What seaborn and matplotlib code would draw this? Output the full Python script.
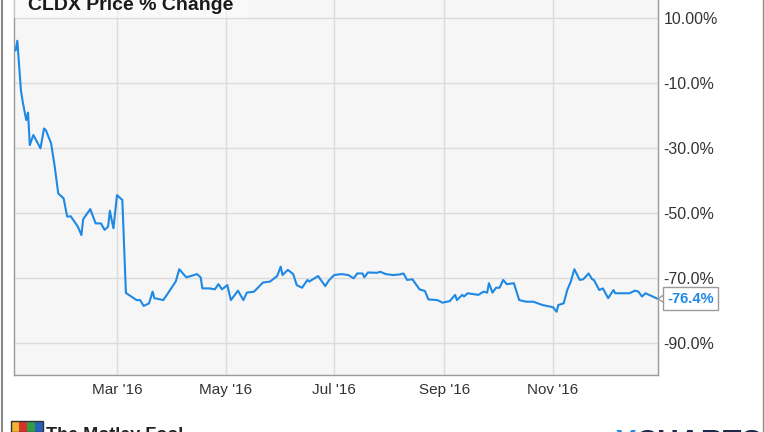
import matplotlib
matplotlib.use('Agg')
import matplotlib.pyplot as plt
import matplotlib.dates as mdates
from matplotlib.patches import Rectangle
from matplotlib.lines import Line2D
import matplotlib.transforms as mtransforms
import seaborn as sns
import pandas as pd

# ---------------- data ----------------
dates = [
    '2016-01-04', '2016-01-05', '2016-01-07', '2016-01-08', '2016-01-10', '2016-01-11',
    '2016-01-12', '2016-01-14', '2016-01-18', '2016-01-20', '2016-01-21', '2016-01-24',
    '2016-01-26', '2016-01-28', '2016-01-31', '2016-02-02', '2016-02-04', '2016-02-08',
    '2016-02-10', '2016-02-11', '2016-02-15', '2016-02-18', '2016-02-21', '2016-02-23',
    '2016-02-25', '2016-02-26', '2016-02-27', '2016-02-28', '2016-03-01', '2016-03-03',
    '2016-03-04', '2016-03-06', '2016-03-09', '2016-03-12', '2016-03-14', '2016-03-16',
    '2016-03-19', '2016-03-21', '2016-03-22', '2016-03-27', '2016-03-29', '2016-04-03',
    '2016-04-05', '2016-04-07', '2016-04-09', '2016-04-15', '2016-04-17', '2016-04-18',
    '2016-04-22', '2016-04-25', '2016-04-27', '2016-04-29', '2016-05-02', '2016-05-04',
    '2016-05-08', '2016-05-11', '2016-05-13', '2016-05-17', '2016-05-22', '2016-05-26',
    '2016-05-30', '2016-06-01', '2016-06-02', '2016-06-05', '2016-06-08', '2016-06-10',
    '2016-06-13', '2016-06-16', '2016-06-17', '2016-06-22', '2016-06-26', '2016-06-28',
    '2016-07-01', '2016-07-05', '2016-07-09', '2016-07-12', '2016-07-14', '2016-07-17',
    '2016-07-18', '2016-07-20', '2016-07-25', '2016-07-27', '2016-07-30', '2016-08-03',
    '2016-08-07', '2016-08-09', '2016-08-11', '2016-08-14', '2016-08-18', '2016-08-21',
    '2016-08-23', '2016-08-28', '2016-08-31', '2016-09-04', '2016-09-07', '2016-09-08',
    '2016-09-11', '2016-09-12', '2016-09-14', '2016-09-20', '2016-09-23', '2016-09-25',
    '2016-09-26', '2016-09-28', '2016-09-30', '2016-10-02', '2016-10-04', '2016-10-06',
    '2016-10-10', '2016-10-13', '2016-10-17', '2016-10-21', '2016-10-26', '2016-11-01',
    '2016-11-03', '2016-11-04', '2016-11-07', '2016-11-09', '2016-11-11', '2016-11-13',
    '2016-11-16', '2016-11-18', '2016-11-21', '2016-11-23', '2016-11-24', '2016-11-27',
    '2016-11-29', '2016-12-02', '2016-12-05', '2016-12-06', '2016-12-14', '2016-12-17',
    '2016-12-19', '2016-12-21', '2016-12-23', '2016-12-29', '2016-12-30',
]
pct_change = [
    0.0, 3.0, -12.2, -15.7, -21.4, -19.1,
    -29.1, -26.0, -30.1, -24.0, -24.5, -28.6,
    -35.7, -44.0, -45.5, -51.1, -51.0, -54.2,
    -56.8, -51.9, -48.8, -53.2, -53.2, -55.2,
    -54.2, -49.3, -52.1, -54.7, -44.5, -45.5,
    -46.0, -74.6, -75.7, -76.8, -76.8, -78.6,
    -77.8, -74.2, -76.2, -76.8, -75.2, -71.1,
    -67.3, -68.6, -69.8, -68.8, -69.8, -73.2,
    -73.2, -73.5, -71.9, -73.5, -72.2, -76.8,
    -73.9, -76.8, -74.5, -74.2, -71.4, -71.1,
    -69.4, -66.5, -69.1, -67.5, -68.8, -72.2,
    -73.0, -70.6, -71.1, -69.4, -72.5, -70.8,
    -69.1, -68.8, -69.1, -70.1, -68.6, -68.6,
    -69.8, -68.3, -68.4, -68.1, -68.8, -69.1,
    -68.9, -68.6, -70.6, -70.4, -73.5, -74.0,
    -76.6, -76.8, -77.6, -77.1, -75.2, -76.8,
    -75.2, -75.7, -74.7, -75.2, -74.2, -74.5,
    -71.6, -74.5, -73.0, -73.0, -70.6, -71.9,
    -71.6, -76.8, -77.3, -77.3, -78.3, -79.0,
    -80.4, -78.3, -77.8, -73.7, -71.1, -67.3,
    -70.6, -70.4, -68.6, -70.4, -70.6, -73.7,
    -73.2, -76.2, -73.7, -74.7, -74.7, -73.9,
    -74.2, -75.7, -74.7, -76.2, -76.4,
]
y_ticks = [10, -10, -30, -50, -70, -90]
y_tick_labels = ['10.00%', '-10.0%', '-30.0%', '-50.0%', '-70.0%', '-90.0%']
x_tick_months = [3, 5, 7, 9, 11]
title = 'CLDX Price % Change'

# ---------------- style ----------------
sns.set_style('white')
plt.rcParams['font.family'] = ['Liberation Sans', 'DejaVu Sans']

W, H = 764, 432
fig = plt.figure(figsize=(W / 100, H / 100), dpi=100)
fig.patch.set_facecolor('white')

ax = fig.add_axes([14 / W, 1 - 375 / H, (658 - 14) / W, 375 / H])
ax.set_facecolor('#f6f6f6')

df = pd.DataFrame({'date': pd.to_datetime(dates), 'pct': pct_change})
line_color = '#1e88e5'
sns.lineplot(data=df, x='date', y='pct', ax=ax, color=line_color,
             linewidth=1.5, estimator=None, zorder=3)

ax.set_xlim(pd.Timestamp('2016-01-03 03:00'), pd.Timestamp('2016-12-30'))
ax.set_ylim(-99.85, 15.54)

ax.yaxis.tick_right()
ax.set_yticks(y_ticks)
ax.set_yticklabels(y_tick_labels)
ax.xaxis.set_major_locator(mdates.MonthLocator(bymonth=x_tick_months))
ax.xaxis.set_major_formatter(mdates.DateFormatter("%b '%y"))
ax.grid(True, color='#dcdcdc', linewidth=1.0, zorder=0)
ax.set_axisbelow(True)
ax.tick_params(axis='y', length=0, labelsize=11.5, colors='#333333', pad=4)
ax.tick_params(axis='x', length=0, labelsize=11, colors='#333333', pad=6)
ax.set_xlabel('')
ax.set_ylabel('')
for side in ['left', 'bottom', 'right']:
    ax.spines[side].set_color('#9a9a9a')
    ax.spines[side].set_linewidth(1.0)
ax.spines['top'].set_visible(False)

# title box and title (cut by the top edge, as in the reference)
fig.add_artist(Rectangle((14 / W, 1 - 18 / H), 234 / W, 18 / H,
                         transform=fig.transFigure, facecolor='white',
                         alpha=0.45, edgecolor='none', zorder=2))
fig.text(28 / W, 1 - 10 / H, title, fontsize=14, fontweight='bold',
         color='#1a1a1a', va='baseline', ha='left', zorder=3)

# last value label with '<' pointer
last_val = pct_change[-1]
trans = mtransforms.blended_transform_factory(ax.transAxes, ax.transData)
ax.annotate(f'{last_val:.1f}%', xy=(1.0, last_val), xycoords=trans,
            xytext=(9, 0), textcoords='offset pixels', ha='left', va='center',
            fontsize=10.5, fontweight='bold', color=line_color,
            bbox=dict(boxstyle='square,pad=0.3', fc='white', ec='#9a9a9a', lw=1.0),
            annotation_clip=False, zorder=5)
for dy in (6, -6):
    ax.annotate('', xy=(1.0, last_val), xycoords=trans,
                xytext=(9, dy), textcoords='offset pixels',
                arrowprops=dict(arrowstyle='-', color='#9a9a9a', lw=1.0,
                                shrinkA=0, shrinkB=0), annotation_clip=False)

# outer frame
fig.add_artist(Line2D([1.5 / W, 1.5 / W], [0, 1], transform=fig.transFigure,
                      color='#8a8a8a', linewidth=1.5))
fig.add_artist(Line2D([762.5 / W, 762.5 / W], [0, 1], transform=fig.transFigure,
                      color='#8a8a8a', linewidth=1.0))

# footer logos (cut off at the bottom edge)
logo_cols = ['#f2b233', '#d9322b', '#2f9e44', '#2660b8']
for i, c in enumerate(logo_cols):
    fig.add_artist(Rectangle(((11 + i * 8) / W, 0), 8 / W, 11 / H,
                             transform=fig.transFigure, facecolor=c,
                             edgecolor='none', zorder=2))
fig.add_artist(Rectangle((11 / W, 0), 32 / W, 11 / H, transform=fig.transFigure,
                         facecolor='none', edgecolor='#333333', lw=1.0, zorder=3))
fig.text(46 / W, 1 - 427.5 / H, 'The Motley Fool', fontsize=13, fontweight='bold',
         color='#222222', va='top', ha='left')
fig.text(615 / W, 1 - 429 / H, 'Y', fontsize=22, fontweight='bold',
         color='#1e88e5', va='top', ha='left')
fig.text(636 / W, 1 - 429 / H, 'CHARTS', fontsize=22, fontweight='bold',
         color='#1b2a4a', va='top', ha='left')

fig.savefig('out.png', dpi=100, facecolor='white')
